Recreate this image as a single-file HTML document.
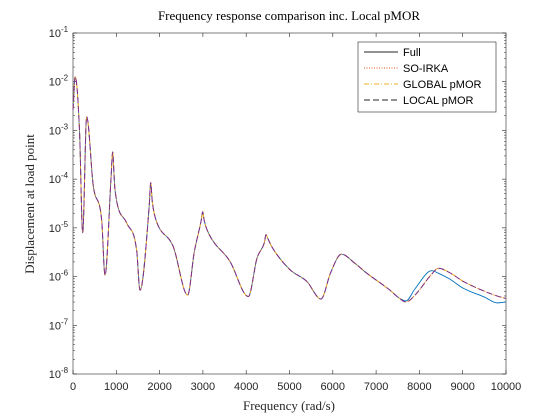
<!DOCTYPE html>
<html><head><meta charset="utf-8">
<style>
html,body{margin:0;padding:0;background:#fff;}
svg{display:block;font-family:"Liberation Sans",sans-serif;}
</style></head>
<body>
<svg id="chart" width="560" height="420" viewBox="0 0 560 420">
<rect x="0" y="0" width="560" height="420" fill="#fff"/>
<g id="plot"></g>
</svg>
<script>
const freqs = [0,50,150,224,316,470,662,739,880,916,950,970,1240,1470,1547,1760,1794,1830,1894,2317,2648,2800,2960,2995,3030,3125,3626,4050,4250,4420,4457,4500,4600,5000,5400,5727,5950,6200,6500,6783,7321,7500,7690,7900,8284,8437,8700,9014,9500,9800,10000];
const fullLog = [-2.58,-1.9,-3.0,-5.1,-2.72,-4.15,-4.84,-5.97,-3.95,-3.44,-3.95,-4.22,-4.9,-5.46,-6.28,-4.55,-4.07,-4.45,-4.77,-5.39,-6.38,-5.5,-4.85,-4.67,-4.85,-5.1,-5.69,-6.41,-5.62,-5.3,-5.14,-5.22,-5.4,-5.85,-6.1,-6.46,-5.92,-5.54,-5.72,-5.93,-6.28,-6.42,-6.5,-6.25,-5.88,-5.93,-6.05,-6.24,-6.42,-6.54,-6.52];
const pmorLog = [-2.58,-1.9,-3.0,-5.1,-2.72,-4.15,-4.84,-5.97,-3.95,-3.44,-3.95,-4.22,-4.9,-5.46,-6.28,-4.55,-4.07,-4.45,-4.77,-5.39,-6.38,-5.5,-4.85,-4.67,-4.85,-5.1,-5.69,-6.41,-5.62,-5.3,-5.14,-5.22,-5.4,-5.85,-6.1,-6.46,-5.92,-5.54,-5.72,-5.93,-6.28,-6.42,-6.52,-6.38,-5.95,-5.83,-5.92,-6.1,-6.3,-6.4,-6.45];
const xTicks = [0,1000,2000,3000,4000,5000,6000,7000,8000,9000,10000];
const yExps = [-8,-7,-6,-5,-4,-3,-2,-1];
const legendLabels = ["Full","SO-IRKA","GLOBAL pMOR","LOCAL pMOR"];

const L=73,R=506,T=33,B=374;
const X=f=>L+(f-0)/10000*(R-L);
const Y=lg=>T+(-1-lg)/7*(B-T);
const NS="http://www.w3.org/2000/svg";
const g=document.getElementById('plot');
function mk(tag,attrs,parent){const e=document.createElementNS(NS,tag);for(const k in attrs)e.setAttribute(k,attrs[k]);(parent||g).appendChild(e);return e;}

function path(xs,ys){
  const n=xs.length,d=[],m=[];
  for(let i=0;i<n-1;i++)d.push((ys[i+1]-ys[i])/(xs[i+1]-xs[i]));
  m[0]=d[0];m[n-1]=d[n-2];
  for(let i=1;i<n-1;i++){m[i]=(d[i-1]*d[i]<=0)?0:(d[i-1]+d[i])/2;}
  for(let i=0;i<n-1;i++){if(d[i]===0){m[i]=m[i+1]=0;continue;}const a=m[i]/d[i],b=m[i+1]/d[i],s=a*a+b*b;if(s>9){const t=3/Math.sqrt(s);m[i]=t*a*d[i];m[i+1]=t*b*d[i];}}
  let p='M'+xs[0].toFixed(2)+','+ys[0].toFixed(2);
  for(let i=0;i<n-1;i++){const h=(xs[i+1]-xs[i])/3;p+=' C'+(xs[i]+h).toFixed(2)+','+(ys[i]+m[i]*h).toFixed(2)+' '+(xs[i+1]-h).toFixed(2)+','+(ys[i+1]-m[i+1]*h).toFixed(2)+' '+xs[i+1].toFixed(2)+','+ys[i+1].toFixed(2);}
  return p;
}

const box=mk('rect',{x:L,y:T,width:R-L,height:B-T,fill:'#fff',stroke:'#262626','stroke-width':0.6});



xTicks.forEach(v=>{
  const x=X(v);
  mk('line',{x1:x,y1:B,x2:x,y2:B-4,stroke:'#262626','stroke-width':0.6});
  mk('line',{x1:x,y1:T,x2:x,y2:T+4,stroke:'#262626','stroke-width':0.6});
  const t=mk('text',{x:x,y:B+16,'text-anchor':'middle','font-size':11,fill:'#262626'});
  t.textContent=v;
  
  
});
yExps.forEach(e=>{
  const y=Y(e);
  mk('line',{x1:L,y1:y,x2:L+4,y2:y,stroke:'#262626','stroke-width':0.6});
  mk('line',{x1:R,y1:y,x2:R-4,y2:y,stroke:'#262626','stroke-width':0.6});
  if(e<-1){for(let k=2;k<10;k++){const yy=Y(e+Math.log10(k));
    mk('line',{x1:L,y1:yy,x2:L+2,y2:yy,stroke:'#262626','stroke-width':0.5});
    mk('line',{x1:R,y1:yy,x2:R-2,y2:yy,stroke:'#262626','stroke-width':0.5});}}
  const t=mk('text',{x:L-12,y:y+4,'text-anchor':'end','font-size':11,fill:'#262626'});
  t.textContent='10';
  
  
  const s=mk('text',{x:L-12,y:y-1,'text-anchor':'start','font-size':8,fill:'#262626'});
  s.textContent=String(e);
  
  
});

const xs=freqs.map(X);
const series=[
 {name:'full-line',vals:fullLog,color:'#0072BD',dash:'',w:0.9},
 {name:'so-irka-line',vals:pmorLog,color:'#D95319',dash:'1,1.5',w:0.9},
 {name:'global-pmor-line',vals:pmorLog,color:'#EDB120',dash:'5,2,1,2',w:1},
 {name:'local-pmor-line',vals:pmorLog,color:'#7E2F8E',dash:'6,3',w:1}
];
series.forEach(s=>{
  const p=mk('path',{d:path(xs,s.vals.map(Y)),fill:'none',stroke:s.color,'stroke-width':s.w,'stroke-dasharray':s.dash});
  
  
});

const lg=mk('g',{});


mk('rect',{x:358,y:42,width:138,height:70,fill:'#fff',stroke:'#262626','stroke-width':0.6},lg);
const lcolors=['#262626','#D95319','#EDB120','#262626'];
legendLabels.forEach((lab,i)=>{
  const y=52+i*16;
  const e=mk('g',{},lg);
  
  
  mk('line',{x1:364,y1:y,x2:398,y2:y,stroke:lcolors[i],'stroke-width':0.9,'stroke-dasharray':series[i].dash},e);
  const t=mk('text',{x:403,y:y+4,'font-size':11,fill:'#000'},e);
  t.textContent=lab;
});

const title=mk('text',{x:289,y:20,'text-anchor':'middle','font-size':13,'font-family':'Liberation Serif, serif',fill:'#000'});
title.textContent='Frequency response comparison inc. Local pMOR';


const xl=mk('text',{x:289,y:410,'text-anchor':'middle','font-size':13,'font-family':'Liberation Serif, serif',fill:'#262626'});
xl.textContent='Frequency (rad/s)';


const yl=mk('text',{x:0,y:0,'text-anchor':'middle','font-size':13,'font-family':'Liberation Serif, serif',fill:'#262626',transform:'translate(34,204) rotate(-90)'});
yl.textContent='Displacement at load point';


</script>
</body></html>
